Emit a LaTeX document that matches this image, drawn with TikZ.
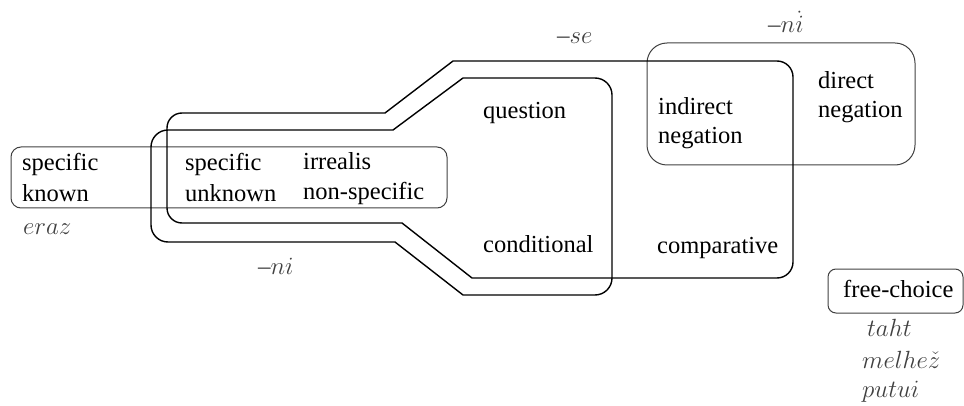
\documentclass[tikz,border=0pt]{standalone}
\usepackage{fontspec}
\setmainfont{Liberation Serif}
\begin{document}
\begin{tikzpicture}[x=1pt,y=-1pt,
  lbl/.style={anchor=base west,inner sep=0pt,font=\fontsize{24.5}{29}\selectfont},
  mlbl/.style={anchor=base west,inner sep=0pt,text=black!75,font=\fontsize{25}{29}\selectfont},
  region/.style={draw=black,line width=1.4pt},
  box/.style={draw=black!75,line width=1pt}]
\useasboundingbox (0,0) rectangle (964,406);
% boxes
\draw[box,rounded corners=10] (11,147) rectangle (447,208);
\draw[box,rounded corners=20] (647,43) rectangle (915,165);
\draw[box,rounded corners=8] (828,269) rectangle (963,313);
% -se region
\draw[region] (167,208) -- (167,128) arc[start angle=180,end angle=270,radius=15]
  -- (385,113) -- (453,61) -- (777,61) arc[start angle=270,end angle=360,radius=16]
  -- (793,262) arc[start angle=0,end angle=90,radius=16]
  -- (472,278) -- (402,223) -- (182,223) arc[start angle=90,end angle=180,radius=15] -- cycle;
% -ni region
\draw[region] (151,225) -- (151,147) arc[start angle=180,end angle=270,radius=17]
  -- (393,130) -- (463,78) -- (595,78) arc[start angle=270,end angle=360,radius=17]
  -- (612,278) arc[start angle=0,end angle=90,radius=17]
  -- (463,295) -- (395,242) -- (168,242) arc[start angle=90,end angle=180,radius=17] -- cycle;
% texts
\node[lbl] (sk1) at (22,171) {specific};
\node[lbl] (sk2) at (22,202) {known};
\node[lbl] (su1) at (185,171) {specific};
\node[lbl] (su2) at (185,202) {unknown};
\node[lbl] (ir1) at (303,170) {irrealis};
\node[lbl] (ir2) at (303,200) {non-specific};
\node[lbl] (q) at (483,119) {question};
\node[lbl] (c) at (483,253) {conditional};
\node[lbl] (in1) at (658,115) {indirect};
\node[lbl] (in2) at (658,144) {negation};
\node[lbl] (dn1) at (818,89) {direct};
\node[lbl] (dn2) at (818,118) {negation};
\node[lbl] (cmp) at (657,254) {comparative};
\node[lbl] (fc) at (843,298) {free-choice};
% italic labels
\node[mlbl] (eraz) at (23,235) {$eraz$};
\node[mlbl] (se) at (557,44) {\textendash$se$};
\node[mlbl] (ni1) at (258,275) {\textendash$ni$};
\node[mlbl] (ni2) at (768,33) {\textendash$n\dot{i}$};
\node[mlbl] (taht) at (867,336) {$taht$};
\node[mlbl] (melh) at (862,368) {$melhe\check{z}$};
\node[mlbl] (putui) at (862,397) {$putui$};
\end{tikzpicture}
\end{document}
